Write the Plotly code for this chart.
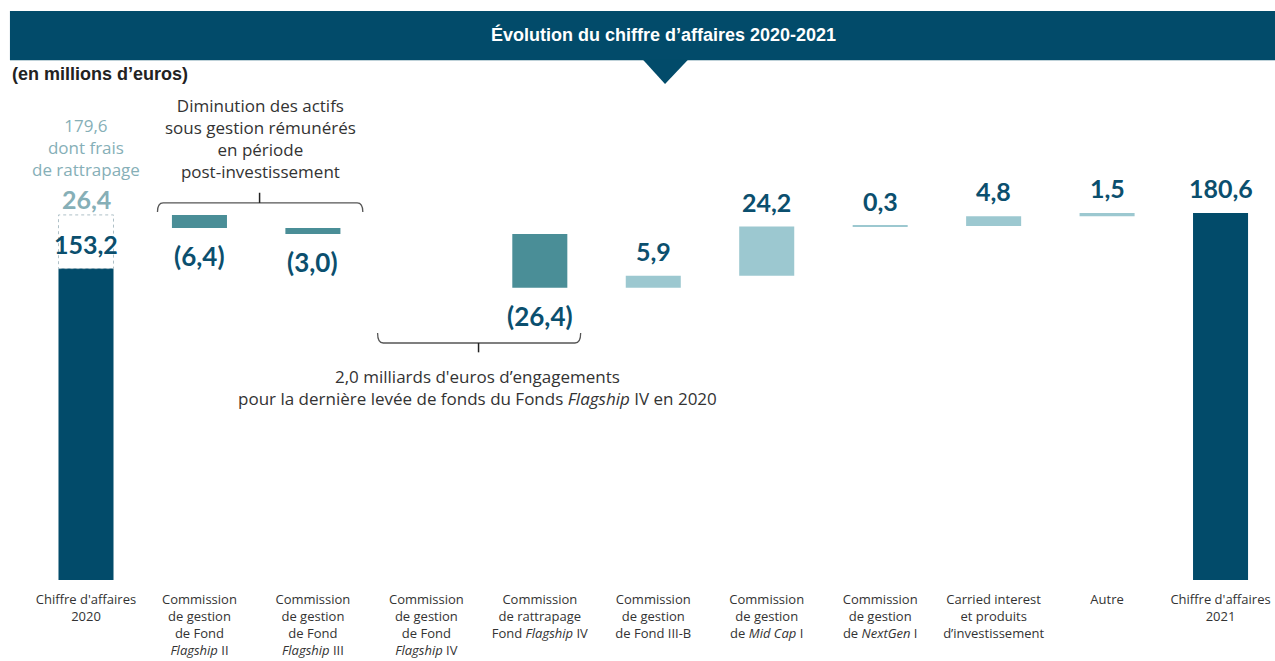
import plotly.graph_objects as go

# ---------------- data ----------------
categories = [
    "Chiffre d'affaires<br>2020",
    "Commission<br>de gestion<br>de Fond<br><i>Flagship</i> II",
    "Commission<br>de gestion<br>de Fond<br><i>Flagship</i> III",
    "Commission<br>de gestion<br>de Fond<br><i>Flagship</i> IV",
    "Commission<br>de rattrapage<br>Fond <i>Flagship</i> IV",
    "Commission<br>de gestion<br>de Fond III-B",
    "Commission<br>de gestion<br>de <i>Mid Cap</i> I",
    "Commission<br>de gestion<br>de <i>NextGen</i> I",
    "Carried interest<br>et produits<br>d\u2019investissement",
    "Autre",
    "Chiffre d'affaires<br>2021",
]
start_base = 153.2          # CA 2020 hors rattrapage
start_catchup = 26.4        # frais de rattrapage
changes = [-6.4, -3.0, None, -26.4, 5.9, 24.2, 0.3, 4.8, 1.5]
end_total = 180.6

# ---------------- colours ----------------
NAVY = "#024B6A"
TEAL = "#4A8E97"
LIGHT = "#9CC8D0"
LIGHT_TXT = "#86AFB7"
LABEL = "#0B4F6E"
GREY_TXT = "#333333"

FONT = "Lato"
TXT_FONT = "Open Sans"

def fmt(v):
    return f"{abs(v):.1f}".replace(".", ",")

xs, ys, bases, colors = [], [], [], []
annotations = []

# first bar
xs.append(0); ys.append(start_base); bases.append(0); colors.append(NAVY)
running = start_base + start_catchup
for i, v in enumerate(changes, start=1):
    if v is None:
        continue
    if v < 0:
        xs.append(i); ys.append(-v); bases.append(running + v); colors.append(TEAL)
        annotations.append(dict(x=i, y=running + v, text=f"({fmt(v)})", yshift=-28,
                                showarrow=False, yanchor="middle",
                                font=dict(family=FONT, size=26, color=LABEL, weight="bold")))
    else:
        xs.append(i); ys.append(v); bases.append(running); colors.append(LIGHT)
        annotations.append(dict(x=i, y=running + v, text=fmt(v), yshift=25,
                                showarrow=False, yanchor="middle",
                                font=dict(family=FONT, size=25, color=LABEL, weight="bold")))
    running += v
last = len(categories) - 1
xs.append(last); ys.append(end_total); bases.append(0); colors.append(NAVY)
annotations.append(dict(x=last, y=end_total, text=fmt(end_total), yshift=25,
                        showarrow=False, yanchor="middle",
                        font=dict(family=FONT, size=25, color=LABEL, weight="bold")))

BAR_W = 0.485

fig = go.Figure()
fig.add_trace(go.Bar(x=xs, y=ys, base=bases, marker=dict(color=colors, line=dict(width=0)),
                     width=BAR_W, hoverinfo="skip"))

# first-bar labels
annotations += [
    dict(x=0, y=start_base + start_catchup / 2, text=fmt(start_base), showarrow=False,
         yanchor="middle", yshift=-2,
         font=dict(family=FONT, size=25, color=LABEL, weight="bold")),
    dict(x=0, y=start_base + start_catchup, text=fmt(start_catchup), showarrow=False,
         yanchor="middle", yshift=16,
         font=dict(family=FONT, size=25, color=LIGHT_TXT, weight="bold")),
    dict(x=0, y=start_base + start_catchup, text=f"{fmt(start_base + start_catchup)}<br>dont frais<br>de rattrapage",
         showarrow=False, yanchor="bottom", yshift=32,
         font=dict(family=TXT_FONT, size=17, color=LIGHT_TXT)),
]

shapes = [
    # dashed catch-up box
    dict(type="rect", xref="x", yref="y", x0=-BAR_W / 2, x1=BAR_W / 2,
         y0=start_base, y1=start_base + start_catchup,
         line=dict(color="#AFC0C7", width=1, dash="dot"), fillcolor="rgba(0,0,0,0)", layer="above"),
    # header band
    dict(type="rect", xref="paper", yref="paper", x0=0.0078, x1=1.0, y0=1.048, y1=1.147,
         line=dict(width=0), fillcolor=NAVY),
    dict(type="path", xref="paper", yref="paper",
         path="M 0.5043 1.049 L 0.5396 1.049 L 0.5216 1.0 Z",
         line=dict(width=0), fillcolor=NAVY),
    # bracket 1 (top)
    dict(type="path", xref="x", yref="y",
         path="M 0.63 181 Q 0.63 185.5 0.68 185.5 L 2.39 185.5 Q 2.44 185.5 2.44 181",
         line=dict(color="#555555", width=1.3)),
    dict(type="line", xref="x", yref="y", x0=1.53, x1=1.53, y0=185.5, y1=190.5,
         line=dict(color="#222222", width=1.5)),
    # bracket 2 (bottom)
    dict(type="path", xref="x", yref="y",
         path="M 2.57 121.5 Q 2.57 116.6 2.62 116.6 L 4.31 116.6 Q 4.36 116.6 4.36 121.5",
         line=dict(color="#555555", width=1.3)),
    dict(type="line", xref="x", yref="y", x0=3.46, x1=3.46, y0=116.6, y1=112,
         line=dict(color="#222222", width=1.5)),
]

annotations += [
    dict(x=1.54, y=217.4, text="Diminution des actifs<br>sous gestion rémunérés<br>en période<br>post-investissement",
         showarrow=False, yanchor="middle", font=dict(family=TXT_FONT, size=17, color=GREY_TXT)),
    dict(x=3.455, y=94.7, text="2,0 milliards d'euros d\u2019engagements<br>pour la dernière levée de fonds du Fonds <i>Flagship</i> IV en 2020",
         showarrow=False, yanchor="middle", font=dict(family=TXT_FONT, size=17, color=GREY_TXT)),
    dict(xref="paper", yref="paper", x=0.52, y=1.099, text="<b>Évolution du chiffre d\u2019affaires 2020-2021</b>",
         showarrow=False, xanchor="center", yanchor="middle",
         font=dict(family="Liberation Sans", size=18, color="white")),
    dict(xref="paper", yref="paper", x=0.0078, y=1.0202, text="<b>(en millions d\u2019euros)</b>",
         showarrow=False, xanchor="left", yanchor="middle",
         font=dict(family="Liberation Sans", size=18, color="#222222")),
]

fig.update_layout(
    width=1275, height=661,
    margin=dict(l=0, r=0, t=84, b=81, pad=0),
    plot_bgcolor="white", paper_bgcolor="white",
    showlegend=False,
    shapes=shapes,
    annotations=annotations,
    xaxis=dict(range=[-0.758, 10.48], tickmode="array", tickvals=list(range(len(categories))),
               ticktext=categories, showgrid=False, zeroline=False, showline=False,
               ticks="", automargin=False, ticklabelstandoff=10,
               tickfont=dict(family=TXT_FONT, size=13, color=GREY_TXT)),
    yaxis=dict(range=[0, 244], visible=False, showgrid=False, zeroline=False),
)

fig.write_html("out.html", config={"displayModeBar": False},
               post_script="document.body.style.margin='0';")
